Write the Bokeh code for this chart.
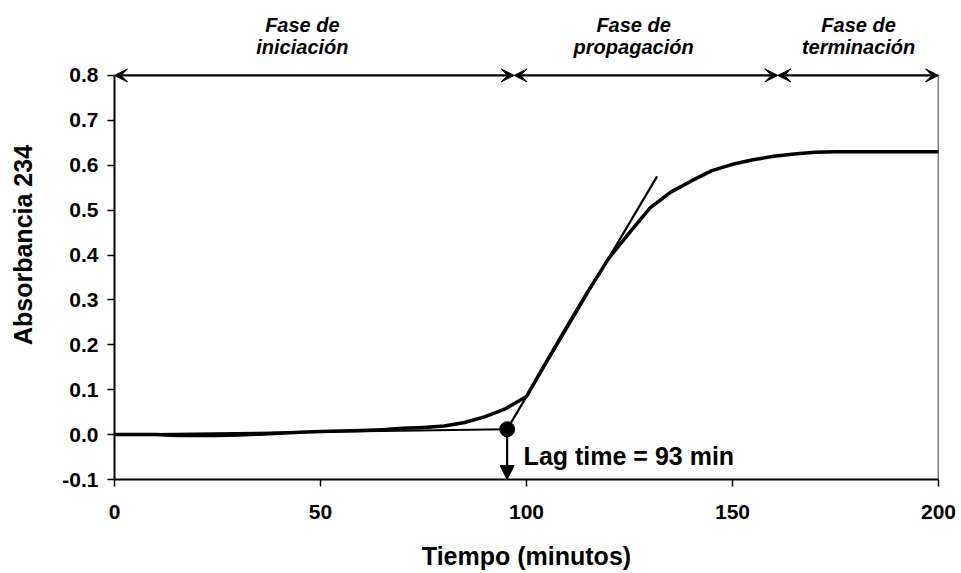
from bokeh.plotting import figure
from bokeh.models import (Range1d, FixedTicker, NumeralTickFormatter, Arrow, VeeHead,
                          NormalHead, Label)
from bokeh.core.properties import value
from bokeh.embed import file_html
from bokeh.resources import INLINE

# ---- data ----
time_min = [0, 5, 10, 15, 20, 25, 30, 35, 40, 45, 50, 55, 60, 65, 70, 75, 80, 85, 90, 95,
            100, 105, 110, 115, 120, 125, 130, 135, 140, 145, 150, 155, 160, 165, 170, 175,
            180, 185, 190, 195, 200]
absorbance = [0.000, 0.000, 0.000, -0.002, -0.002, -0.002, -0.001, 0.001, 0.003, 0.005,
              0.007, 0.008, 0.009, 0.011, 0.014, 0.016, 0.019, 0.027, 0.040, 0.058,
              0.085, 0.165, 0.243, 0.320, 0.393, 0.450, 0.505, 0.540, 0.565, 0.588,
              0.602, 0.612, 0.620, 0.625, 0.629, 0.630, 0.630, 0.630, 0.630, 0.630, 0.630]
baseline_x = [0, 95.3]
baseline_y = [0.0, 0.012]
tangent_x = [95.3, 131.7]
tangent_y = [0.012, 0.575]
lag_point_x = [95.3]
lag_point_y = [0.012]
lag_text = "Lag time = 93 min"
phase_bounds = [0, 97, 161, 200]
phase_line1 = ["Fase de", "Fase de", "Fase de"]
phase_line2 = ["iniciación", "propagación", "terminación"]
phase_centers = [45.6, 126.0, 180.6]
x_ticks = [0, 50, 100, 150, 200]
y_ticks = [-0.1, 0.0, 0.1, 0.2, 0.3, 0.4, 0.5, 0.6, 0.7, 0.8]

FONT = "Liberation Sans"

W, H = 961, 573
left, right, top, bottom = 114, 23, 10, 94
px_per_unit = 449.0
y_top = -0.1 + (H - top - bottom) / px_per_unit

p = figure(width=W, height=H, output_backend="svg", toolbar_location=None,
           x_range=Range1d(0, 200), y_range=Range1d(-0.1, y_top),
           min_border_left=left, min_border_right=right,
           min_border_top=top, min_border_bottom=bottom)
p.outline_line_color = None
p.grid.visible = False
p.background_fill_color = "white"
p.border_fill_color = "white"

# axes
for ax in (p.xaxis[0], p.yaxis[0]):
    ax.axis_line_color = "black"
    ax.axis_line_width = 2
    ax.major_tick_line_color = "black"
    ax.major_tick_line_width = 1.5
    ax.major_tick_in = 0
    ax.major_tick_out = 7
    ax.minor_tick_line_color = None
    ax.major_label_text_font = FONT
    ax.major_label_text_font_style = "bold"
    ax.major_label_text_font_size = "21px"
    ax.major_label_text_color = "black"
    ax.axis_label_text_font = FONT
    ax.axis_label_text_font_style = "bold"
    ax.axis_label_text_font_size = "25px"
    ax.axis_label_text_color = "black"

p.xaxis.ticker = FixedTicker(ticks=x_ticks)
p.xaxis.bounds = (0, 200)
p.xaxis.axis_label = "Tiempo (minutos)"
p.xaxis.major_label_standoff = 18
p.xaxis.axis_label_standoff = 20

p.yaxis.ticker = FixedTicker(ticks=y_ticks)
p.yaxis.formatter = NumeralTickFormatter(format="0.0")
p.yaxis.bounds = (-0.1, 0.8)
p.yaxis.axis_label = "Absorbancia 234"
p.yaxis.major_label_standoff = 9
p.yaxis.axis_label_standoff = 22

# right boundary line
p.line([200, 200], [-0.1, 0.8], line_color="black", line_width=1.5)

# main curve
p.line(time_min, absorbance, line_color="black", line_width=3.5, line_join="round")
# baseline and tangent
p.line(baseline_x, baseline_y, line_color="black", line_width=2)
p.line(tangent_x, tangent_y, line_color="black", line_width=2.2)

# lag arrow
p.add_layout(Arrow(x_start=lag_point_x[0], y_start=lag_point_y[0],
                   x_end=lag_point_x[0], y_end=-0.1,
                   line_color="black", line_width=2.2,
                   end=NormalHead(size=14, fill_color="black", line_color="black")))
p.scatter(lag_point_x, lag_point_y, size=15, marker="circle",
          fill_color="black", line_color="black")

p.add_layout(Label(x=99.3, y=-0.048, text=lag_text, text_font=FONT,
                   text_font_style="bold", text_font_size="25px",
                   text_color="black", text_align="left",
                   text_baseline="alphabetic"))

# phase arrows
for a, b in zip(phase_bounds[:-1], phase_bounds[1:]):
    p.add_layout(Arrow(x_start=a, y_start=0.8, x_end=b, y_end=0.8,
                       line_color="black", line_width=2.2,
                       start=VeeHead(size=13, fill_color="black", line_color="black"),
                       end=VeeHead(size=13, fill_color="black", line_color="black")))

y1 = 0.8 + (75 - 25) / px_per_unit
y2 = 0.8 + (75 - 47) / px_per_unit
p.text(phase_centers, [y1] * 3, text=phase_line1, text_font=value(FONT),
       text_font_style="bold italic", text_font_size="20px", text_color="black",
       text_align="center", text_baseline="middle")
p.text(phase_centers, [y2] * 3, text=phase_line2, text_font=value(FONT),
       text_font_style="bold italic", text_font_size="20px", text_color="black",
       text_align="center", text_baseline="middle")

open("out.html", "w").write(file_html(p, INLINE))
